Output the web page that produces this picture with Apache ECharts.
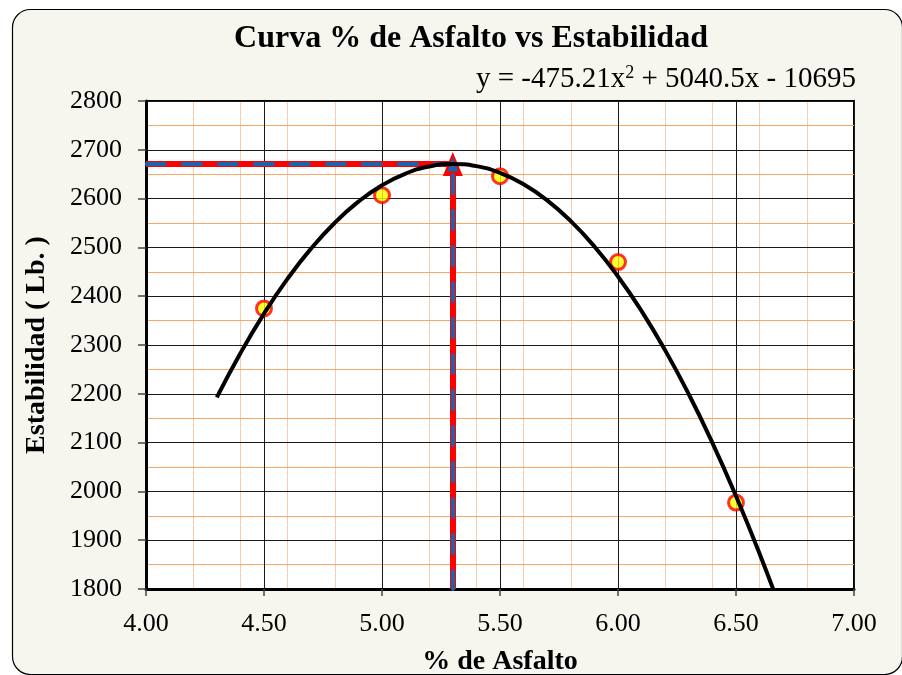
<!DOCTYPE html>
<html>
<head>
<meta charset="utf-8">
<script src="https://cdn.jsdelivr.net/npm/echarts@6/dist/echarts.min.js"></script>
<style>
  html, body { margin: 0; padding: 0; background: #ffffff; }
  #chart { width: 902px; height: 675px; }
</style>
</head>
<body>
<div id="chart"></div>
<script>
// ---- Data ----
const asfalto = [4.5, 5.0, 5.5, 6.0, 6.5];
const estabilidad = [2375, 2607, 2646, 2470, 1977];

// Polynomial trendline (y = -475.21x^2 + 5040.5x - 10695)
const trendX = [4.3, 4.4, 4.5, 4.6, 4.7, 4.8, 4.9, 5.0, 5.1, 5.2, 5.3, 5.4, 5.5, 5.6, 5.7, 5.8, 5.9, 6.0, 6.1, 6.2, 6.3, 6.4, 6.5, 6.6, 6.7];
const trendY = [2192.5, 2283.1, 2364.3, 2435.9, 2498.0, 2550.6, 2593.7, 2627.3, 2651.3, 2665.9, 2671.0, 2666.6, 2652.7, 2629.2, 2596.3, 2553.8, 2501.9, 2440.4, 2369.5, 2289.0, 2199.1, 2099.6, 1990.6, 1872.2, 1744.2];

// Optimum (peak) marker lines
const peakX = 5.30;
const peakY = 2671;

const titleText = 'Curva % de Asfalto vs Estabilidad';
const eqText = 'y = -475.21x{sup|2} + 5040.5x - 10695';
const xName = '% de Asfalto';
const yName = 'Estabilidad ( Lb. )';

const xMin = 4, xMax = 7, xStep = 0.5, xMinorStep = 0.2;
const yMin = 1800, yMax = 2800, yStep = 100;

// ---- Chart ----
const FONT = '"Liberation Serif", "Times New Roman", serif';
const chart = echarts.init(document.getElementById('chart'), null, { renderer: 'canvas' });

const option = {
  backgroundColor: '#ffffff',
  animation: false,
  graphic: [
    {
      type: 'rect', z: -100, silent: true,
      shape: { x: 12.5, y: 9.5, width: 890, height: 665, r: 18 },
      style: { fill: '#F6F6EF', stroke: '#000000', lineWidth: 1.2 }
    },
    {
      type: 'text', z: 100, x: 471, y: 39, silent: true,
      style: {
        text: titleText, font: 'bold 32px ' + FONT, fill: '#000',
        align: 'center', verticalAlign: 'middle', textAlign: 'center', textVerticalAlign: 'middle'
      }
    },
    {
      type: 'text', z: 100, x: 856, y: 79, silent: true,
      style: {
        text: eqText, font: '29px ' + FONT, fill: '#000',
        align: 'right', verticalAlign: 'middle', textAlign: 'right', textVerticalAlign: 'middle',
        rich: { sup: { fontSize: 18, fontFamily: FONT, fill: '#000', verticalAlign: 'top' } }
      }
    }
  ],
  grid: {
    left: 146, right: 48, top: 101, bottom: 86,
    show: true, backgroundColor: '#ffffff', borderColor: '#000', borderWidth: 2,
    containLabel: false, outerBoundsMode: 'none'
  },
  xAxis: [
    {
      type: 'value', min: xMin, max: xMax, interval: xStep, z: 1,
      name: xName, nameLocation: 'middle', nameGap: 59,
      nameTextStyle: { fontFamily: FONT, fontWeight: 'bold', fontSize: 28, color: '#000' },
      axisLine: { show: true, onZero: false, lineStyle: { color: '#000', width: 3 } },
      axisTick: { show: true, length: 7, lineStyle: { color: '#444', width: 1.5 } },
      axisLabel: { formatter: v => v.toFixed(2), fontFamily: FONT, fontSize: 26, color: '#000', margin: 22 },
      splitLine: { show: true, lineStyle: { color: '#1a1a1a', width: 1 } }
    },
    {
      type: 'value', min: xMin, max: xMax, interval: xMinorStep, z: 0, position: 'bottom',
      axisLine: { show: false }, axisTick: { show: false }, axisLabel: { show: false },
      splitLine: { show: true, lineStyle: { color: '#F8CDAD', width: 1 } }
    }
  ],
  yAxis: {
    type: 'value', min: yMin, max: yMax, interval: yStep, z: 1,
    name: yName, nameLocation: 'middle', nameGap: 95, nameRotate: 90,
    nameTextStyle: { fontFamily: FONT, fontWeight: 'bold', fontSize: 28, color: '#000' },
    axisLine: { show: true, onZero: false, lineStyle: { color: '#000', width: 3 } },
    axisTick: { show: true, length: 8, lineStyle: { color: '#444', width: 1.5 } },
    axisLabel: { formatter: v => String(v), fontFamily: FONT, fontSize: 26, color: '#000', margin: 24 },
    splitLine: { show: true, lineStyle: { color: '#1a1a1a', width: 1 } },
    minorTick: { show: false, splitNumber: 2 },
    minorSplitLine: { show: true, lineStyle: { color: '#F6A764', width: 1 } }
  },
  series: [
    {
      name: 'Datos', type: 'scatter', z: 3,
      data: asfalto.map((x, i) => [x, estabilidad[i]]),
      symbol: 'circle', symbolSize: 15,
      itemStyle: { color: '#FFFF00', borderColor: '#FF0000', borderWidth: 3 },
      silent: true
    },
    {
      name: 'OptRed', type: 'line', z: 4, silent: true,
      data: [[peakX, peakY], [xMin, peakY]],
      showSymbol: false, symbol: 'none',
      lineStyle: { color: '#FF0000', width: 6 },
      markLine: {
        silent: true, animation: false,
        symbol: ['none', 'triangle'], symbolSize: [20, 24],
        label: { show: false }, emphasis: { disabled: true },
        lineStyle: { color: '#FF0000', width: 6, type: 'solid' },
        data: [[{ coord: [peakX, yMin] }, { coord: [peakX, peakY] }]]
      }
    },
    {
      name: 'OptBlue', type: 'line', z: 4, silent: true,
      data: [[peakX, peakY], [xMin, peakY]],
      showSymbol: false, symbol: 'none',
      lineStyle: { color: '#1E63A8', width: 4, type: [18, 18], cap: 'round' },
      markLine: {
        silent: true, animation: false,
        symbol: ['none', 'triangle'], symbolSize: [11, 15],
        label: { show: false }, emphasis: { disabled: true },
        lineStyle: { color: '#1E63A8', width: 4, type: [18, 18], cap: 'round' },
        data: [[{ coord: [peakX, yMin] }, { coord: [peakX, peakY] }]]
      }
    },
    {
      name: 'Tendencia', type: 'line', z: 6, silent: true,
      data: trendX.map((x, i) => [x, trendY[i]]),
      smooth: true, showSymbol: false, symbol: 'none', clip: true,
      lineStyle: { color: '#000', width: 4 }
    }
  ]
};

chart.setOption(option);
</script>
</body>
</html>
